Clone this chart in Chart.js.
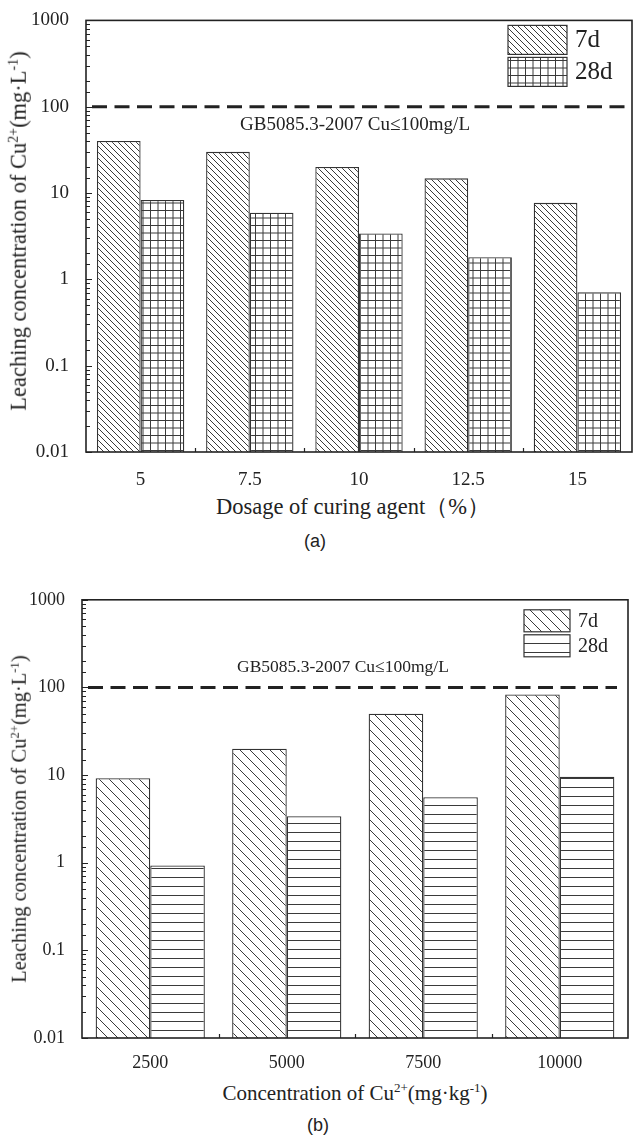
<!DOCTYPE html>
<html>
<head>
<meta charset="utf-8">
<script src="https://cdn.jsdelivr.net/npm/chart.js@4.4.1/dist/chart.umd.min.js"></script>
<style>
  html, body { margin: 0; padding: 0; background: #fff; }
  body { width: 637px; height: 1136px; position: relative; overflow: hidden;
         font-family: 'Liberation Serif', 'Times New Roman', serif; color: #222; }
  .panel { position: absolute; left: 0; width: 637px; }
  .txt { position: absolute; white-space: nowrap; line-height: 1; }
  .ytitle { transform: translate(-50%, -50%) rotate(-90deg); }
  .xtitle, .cap { transform: translate(-50%, -50%); }
  .cap { font-family: 'Liberation Sans', Arial, sans-serif; }
  sup { font-size: 0.62em; vertical-align: 0.55em; line-height: 0; }
</style>
</head>
<body>

<div class="panel" style="top:0; height:490px;">
  <canvas id="chart-a" width="637" height="490"></canvas>
</div>
<div class="txt ytitle" style="left:19px; top:231px; font-size:22.5px;">Leaching concentration of Cu<sup>2+</sup>(mg·L<sup>-1</sup>)</div>
<div class="txt xtitle" style="left:353px; top:507px; font-size:22.5px;">Dosage of curing agent（%）</div>
<div class="txt cap" style="left:315px; top:541px; font-size:18px;">(a)</div>

<div class="panel" style="top:580px; height:490px;">
  <canvas id="chart-b" width="637" height="490"></canvas>
</div>
<div class="txt ytitle" style="left:19px; top:819px; font-size:20.5px;">Leaching concentration of Cu<sup>2+</sup>(mg·L<sup>-1</sup>)</div>
<div class="txt xtitle" style="left:355px; top:1093px; font-size:21px;">Concentration of Cu<sup>2+</sup>(mg·kg<sup>-1</sup>)</div>
<div class="txt cap" style="left:318px; top:1125px; font-size:18px;">(b)</div>

<script>
// (a) dosage of curing agent, %
const DOSAGE     = ['5', '7.5', '10', '12.5', '15'];
const DOSAGE_7D  = [40, 30, 20, 14.8, 7.7];
const DOSAGE_28D = [8.3, 5.9, 3.4, 1.8, 0.71];

// (b) Cu2+ concentration, mg/kg
const CU_CONC = ['2500', '5000', '7500', '10000'];
const CU_7D   = [9.2, 20, 50, 83];
const CU_28D  = [0.93, 3.4, 5.6, 9.6];

const SERIES      = ['7d', '28d'];
const Y_TICKS     = ['0.01', '0.1', '1', '10', '100', '1000'];
const Y_MIN       = 0.01;
const Y_MAX       = 1000;
const LIMIT       = 100;
const LIMIT_LABEL = 'GB5085.3-2007 Cu≤100mg/L';

const INK = '#222';
const SERIF = "'Liberation Serif', 'Times New Roman', serif";

function makePattern(ctx, kind, size) {
    const tile = document.createElement('canvas');
    tile.width = size;
    tile.height = size;
    const t = tile.getContext('2d');
    t.fillStyle = '#fff';
    t.fillRect(0, 0, size, size);
    t.strokeStyle = '#3a3a3a';
    t.lineWidth = 1;
    t.beginPath();
    if (kind === 'diag') {
        for (let x0 = -size; x0 <= size; x0 += size) {
            t.moveTo(x0, 0);
            t.lineTo(x0 + size, size);
        }
    } else if (kind === 'grid') {
        const half = size / 2;
        t.moveTo(0.5, 0); t.lineTo(0.5, size);
        t.moveTo(half + 0.5, 0); t.lineTo(half + 0.5, size);
        t.moveTo(0, 0.5); t.lineTo(size, 0.5);
        t.moveTo(0, half + 0.5); t.lineTo(size, half + 0.5);
    } else {
        t.moveTo(0, 0.5); t.lineTo(size, 0.5);
    }
    t.stroke();
    return ctx.createPattern(tile, 'repeat');
}

function isDecade(v) {
    const l = Math.log10(v);
    return Math.abs(l - Math.round(l)) < 1e-6;
}

// frame, inward ticks, limit line, limit label and legend inside the plot
const decorPlugin = {
    id: 'decor',
    afterDraw(chart, args, opts) {
        const { ctx, chartArea: a, scales: { x, y } } = chart;
        ctx.save();
        ctx.strokeStyle = INK;

        // inward y ticks
        ctx.lineWidth = 1.2;
        ctx.beginPath();
        y.ticks.forEach(t => {
            const py = Math.round(y.getPixelForValue(t.value)) + 0.5;
            const len = isDecade(t.value) ? 6 : 4;
            ctx.moveTo(a.left, py);
            ctx.lineTo(a.left + len, py);
        });
        // inward x ticks between categories
        for (let i = 1; i < x.ticks.length; i++) {
            const px = Math.round((x.getPixelForTick(i - 1) + x.getPixelForTick(i)) / 2) + 0.5;
            ctx.moveTo(px, a.bottom);
            ctx.lineTo(px, a.bottom - 4);
        }
        ctx.stroke();

        // frame
        ctx.lineWidth = 1.6;
        ctx.strokeRect(a.left, a.top, a.right - a.left, a.bottom - a.top);

        // limit line
        const ly = y.getPixelForValue(opts.limit);
        ctx.lineWidth = 3;
        ctx.setLineDash([15, 7.5]);
        ctx.lineDashOffset = opts.dashOffset;
        ctx.beginPath();
        ctx.moveTo(a.left + opts.dashStart, ly);
        ctx.lineTo(a.right - opts.dashEndGap, ly);
        ctx.stroke();
        ctx.setLineDash([]);

        ctx.fillStyle = INK;
        ctx.font = opts.labelSize + 'px ' + SERIF;
        ctx.textAlign = 'left';
        ctx.textBaseline = 'middle';
        ctx.fillText(opts.label, opts.labelX, ly + opts.labelDy);

        // legend
        const lg = opts.legend;
        chart.data.datasets.forEach((ds, i) => {
            const bx = a.right - lg.dx;
            const by = a.top + lg.dy + i * (lg.h + lg.gap);
            ctx.fillStyle = ds.backgroundColor;
            ctx.fillRect(bx, by, lg.w, lg.h);
            ctx.lineWidth = 1.2;
            ctx.strokeStyle = '#333';
            ctx.strokeRect(bx, by, lg.w, lg.h);
            ctx.fillStyle = INK;
            ctx.font = lg.size + 'px ' + SERIF;
            ctx.fillText(ds.label, bx + lg.w + 8, by + lg.h / 2 + 1);
        });
        ctx.restore();
    }
};

function buildChart(id, labels, d7, d28, fills, look) {
    const ctx = document.getElementById(id).getContext('2d');
    return new Chart(ctx, {
        type: 'bar',
        data: {
            labels: labels,
            datasets: [
                {
                    label: SERIES[0],
                    data: d7,
                    backgroundColor: fills[0],
                    borderColor: '#333',
                    borderWidth: 1.3,
                    categoryPercentage: 0.8,
                    barPercentage: 1.0,
                },
                {
                    label: SERIES[1],
                    data: d28,
                    backgroundColor: fills[1],
                    borderColor: '#333',
                    borderWidth: 1.3,
                    categoryPercentage: 0.8,
                    barPercentage: 1.0,
                },
            ]
        },
        options: {
            responsive: false,
            animation: false,
            layout: { padding: look.padding },
            plugins: {
                legend: { display: false },
                tooltip: { enabled: false },
                decor: look.decor,
            },
            scales: {
                x: {
                    type: 'category',
                    offset: true,
                    grid: { display: false },
                    border: { display: false },
                    ticks: { color: INK, padding: look.xPad, maxRotation: 0,
                             font: { family: SERIF, size: look.tickSize } },
                    afterFit: s => { s.height = look.xHeight; },
                },
                y: {
                    type: 'logarithmic',
                    min: Y_MIN,
                    max: Y_MAX,
                    grid: { display: false },
                    border: { display: false },
                    ticks: {
                        autoSkip: false,
                        color: INK,
                        padding: 9,
                        font: { family: SERIF, size: look.tickSize },
                        callback: v => isDecade(v) ? Y_TICKS[Math.round(Math.log10(v)) + 2] : '',
                    },
                    afterFit: s => { s.width = look.yWidth; },
                }
            }
        },
        plugins: [decorPlugin]
    });
}

const ctxA = document.getElementById('chart-a').getContext('2d');
const ctxB = document.getElementById('chart-b').getContext('2d');

buildChart('chart-a', DOSAGE, DOSAGE_7D, DOSAGE_28D,
    [makePattern(ctxA, 'diag', 6), makePattern(ctxA, 'grid', 15)],
    {
        padding: { left: 0, right: 5, top: 13, bottom: 0 },
        xHeight: 38, yWidth: 86, xPad: 9, tickSize: 19,
        decor: {
            limit: LIMIT, label: LIMIT_LABEL, labelX: 240, labelDy: 18, labelSize: 19,
            dashStart: 6, dashEndGap: 0, dashOffset: 0,
            legend: { dx: 124, dy: 5, w: 59, h: 29, gap: 3, size: 25 },
        },
    });

buildChart('chart-b', CU_CONC, CU_7D, CU_28D,
    [makePattern(ctxB, 'diag', 10), makePattern(ctxB, 'hline', 9)],
    {
        padding: { left: 0, right: 9, top: 18, bottom: 0 },
        xHeight: 32, yWidth: 82, xPad: 6, tickSize: 18,
        decor: {
            limit: LIMIT, label: LIMIT_LABEL, labelX: 237, labelDy: -20, labelSize: 17.5,
            dashStart: 6, dashEndGap: 11, dashOffset: 0,
            legend: { dx: 104, dy: 10, w: 46, h: 22, gap: 3, size: 20 },
        },
    });
</script>
</body>
</html>
